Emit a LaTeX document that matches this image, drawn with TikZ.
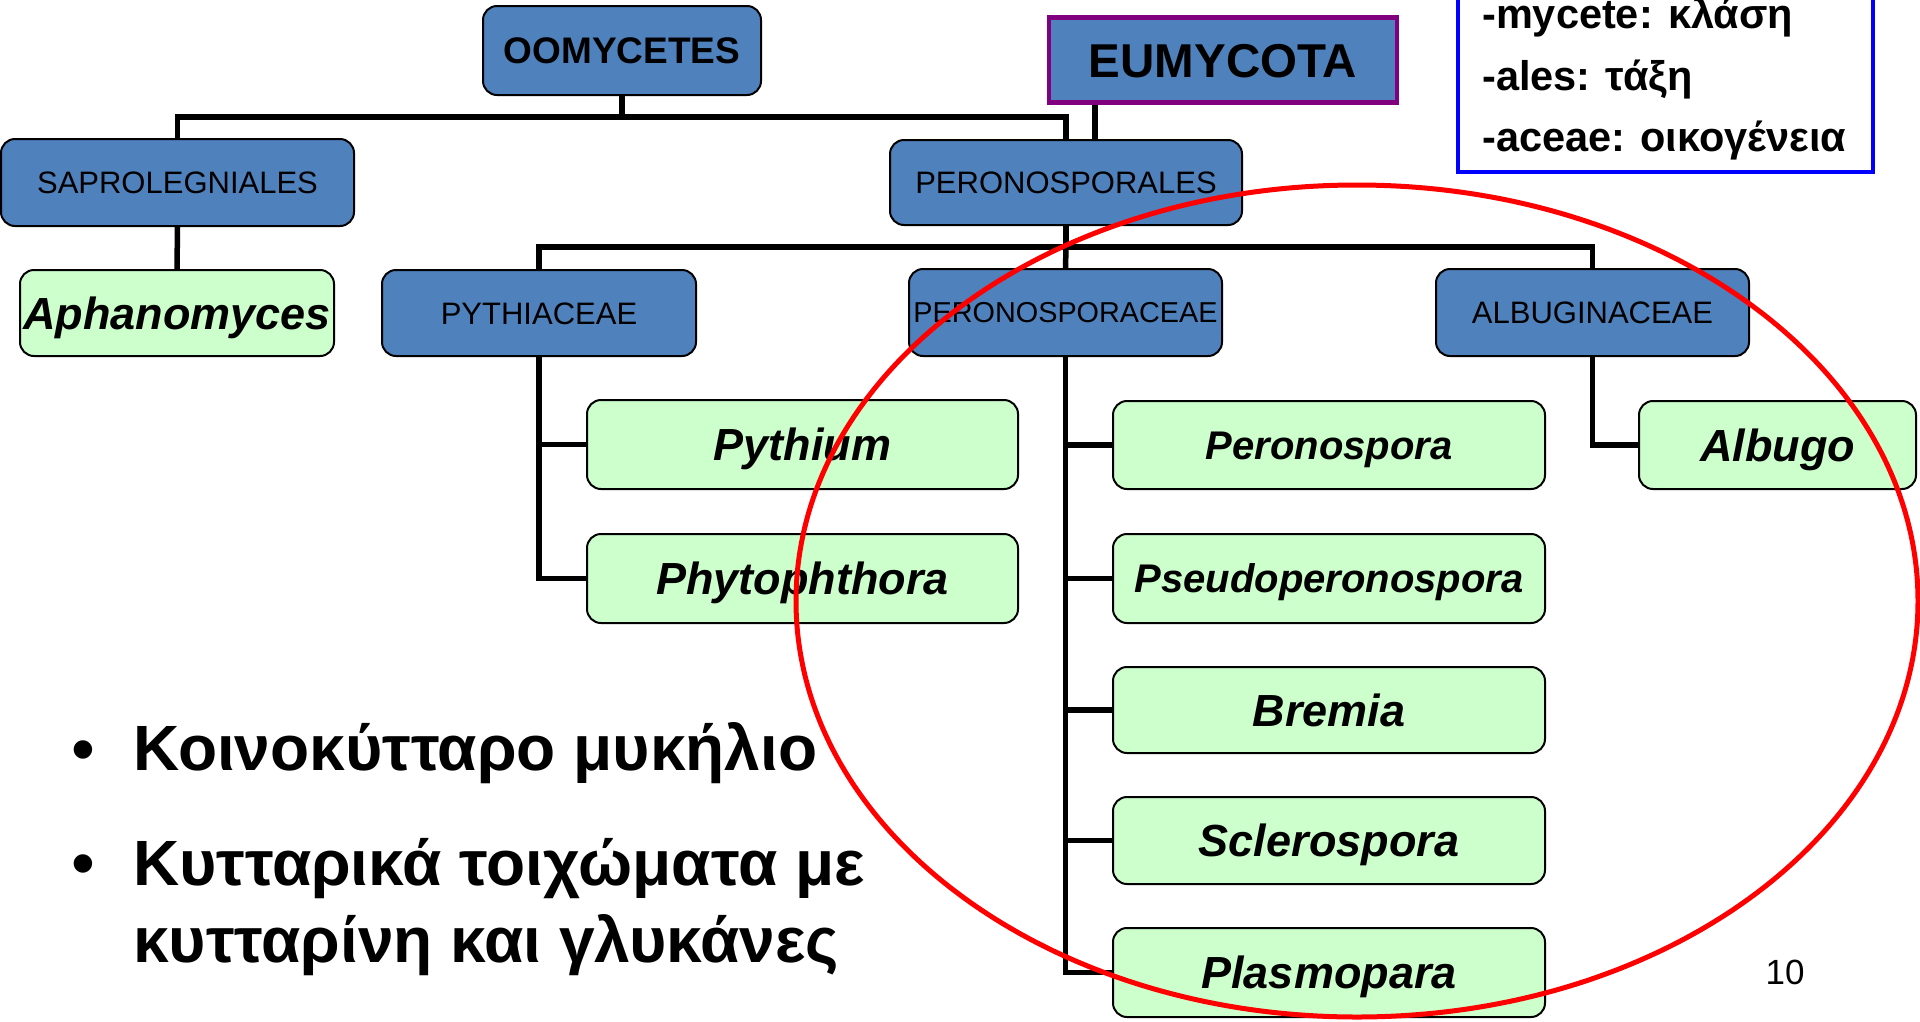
\documentclass[tikz,border=0pt]{standalone}
\usepackage{fontspec}
\setmainfont{Liberation Sans}
\usetikzlibrary{calc}
\definecolor{boxblue}{HTML}{4F81BD}
\definecolor{boxgreen}{HTML}{CCFFCC}
\definecolor{eupurple}{HTML}{800080}
\tikzset{
  taxon/.style={draw=black, line width=2pt, fill=boxblue, rounded corners=14pt, inner sep=0pt, text=black, font=\fontsize{31}{36}\selectfont, text height=22.2pt, text depth=0pt},
  genus/.style={draw=black, line width=2pt, fill=boxgreen, rounded corners=14pt, inner sep=0pt, text=black, font=\fontsize{45}{52}\selectfont\bfseries\itshape, text height=32.2pt, text depth=0pt},
  smallgenus/.style={genus, font=\fontsize{40}{46}\selectfont\bfseries\itshape, text height=28.6pt},
  link/.style={line width=5.5pt, black},
  legtext/.style={anchor=base west, inner sep=0pt, font=\fontsize{41.5}{46}\selectfont\bfseries},
  bultext/.style={anchor=base west, inner sep=0pt, font=\fontsize{64}{70}\selectfont\bfseries},
  bulmark/.style={anchor=base, inner sep=0pt, font=\fontsize{68}{72}\selectfont},
}
\begin{document}
\begin{tikzpicture}[x=1pt, y=-1pt]
\useasboundingbox (0,0) rectangle (1920,1021);
\fill[white] (0,0) rectangle (1920,1021);

% upper level
\node[taxon, minimum width=278pt, minimum height=89pt, font=\fontsize{37}{42}\selectfont\bfseries, text height=26.5pt] (oom) at (622,50.5) {OOMYCETES};
\node[draw=eupurple, line width=4.5pt, fill=boxblue, inner sep=0pt, minimum width=348pt, minimum height=85pt, font=\fontsize{47.5}{52}\selectfont\bfseries, text height=34pt, text depth=0pt] (eum) at (1223,60) {EUMYCOTA};

% orders
\node[taxon, minimum width=353pt, minimum height=87pt] (sap) at (177.5,182.5) {SAPROLEGNIALES};
\node[taxon, minimum width=352pt, minimum height=85pt] (per) at (1066,182.5) {PERONOSPORALES};

% families
\node[genus, minimum width=314pt, minimum height=86pt] (aph) at (177,313) {Aphanomyces};
\node[taxon, minimum width=314pt, minimum height=86pt] (pyt) at (539,313) {PYTHIACEAE};
\node[taxon, minimum width=313pt, minimum height=87pt, font=\fontsize{28.8}{34}\selectfont, text height=20.6pt] (pce) at (1065.5,312.5) {PERONOSPORACEAE};
\node[taxon, minimum width=313pt, minimum height=87pt] (alb) at (1592.5,312.5) {ALBUGINACEAE};

% genera
\node[genus, minimum width=431pt, minimum height=89pt] (pythium) at (802.5,444.5) {Pythium};
\node[genus, minimum width=431pt, minimum height=89pt] (phyt) at (802.5,578.5) {Phytophthora};
\node[smallgenus, minimum width=432pt, minimum height=88pt] (perono) at (1329,445) {Peronospora};
\node[smallgenus, minimum width=432pt, minimum height=89pt] (pseudo) at (1329,578.5) {Pseudoperonospora};
\node[genus, minimum width=432pt, minimum height=86pt] (bremia) at (1329,710) {Bremia};
\node[genus, minimum width=432pt, minimum height=87pt] (scler) at (1329,840.5) {Sclerospora};
\node[genus, minimum width=432pt, minimum height=89pt] (plasmo) at (1329,972.5) {Plasmopara};
\node[genus, minimum width=277pt, minimum height=88pt] (albugo) at (1777.5,445) {Albugo};

% connectors
\coordinate (j1) at (622,117);
\coordinate (j2) at (1066,247);
\draw[link] (oom.south) -- (j1);
\draw[link] (sap.north) |- (j1) -| (per.north);
\draw[link] ([xshift=-128pt]eum.south) -- ([xshift=-128pt]eum.south |- per.north);
\draw[link] (sap.south) -- (aph.north);
\draw[link] (per.south) -- (j2);
\draw[link] (pyt.north) |- (j2) -| (alb.north);
\draw[link] (j2) -- (pce.north);
\draw[link] (pyt.south) |- (phyt.west);
\draw[link] (pyt.south |- pythium.west) -- (pythium.west);
\draw[link] (pce.south) |- (plasmo.west);
\draw[link] (pce.south |- perono.west) -- (perono.west);
\draw[link] (pce.south |- pseudo.west) -- (pseudo.west);
\draw[link] (pce.south |- bremia.west) -- (bremia.west);
\draw[link] (pce.south |- scler.west) -- (scler.west);
\draw[link] (alb.south) |- (albugo.west);

% legend
\node[draw=blue, line width=4pt, fill=white, inner sep=0pt, minimum width=415pt, minimum height=200pt] (legend) at (1665.5,72) {};
\node[legtext] (l1) at (1482,28) {-mycete: κλάση};
\node[legtext] (l2) at (1482,90) {-ales: τάξη};
\node[legtext] (l3) at (1482,151) {-aceae: οικογένεια};

% bullets
\node[bulmark] (b1) at (83,772) {•};
\node[bultext] (t1) at (133,770) {Κοινοκύτταρο μυκήλιο};
\node[bulmark] (b2) at (83,886) {•};
\node[bultext] (t2) at (133,885) {Κυτταρικά τοιχώματα με};
\node[bultext] (t3) at (133,962) {κυτταρίνη και γλυκάνες};

% page number
\node[inner sep=0pt, font=\fontsize{35}{40}\selectfont, text height=25pt, text depth=0pt] (pg) at (1785,972) {10};

% red ellipse
\draw[red, line width=5pt] (1357,601) ellipse [x radius=561pt, y radius=416pt];
\end{tikzpicture}
\end{document}
